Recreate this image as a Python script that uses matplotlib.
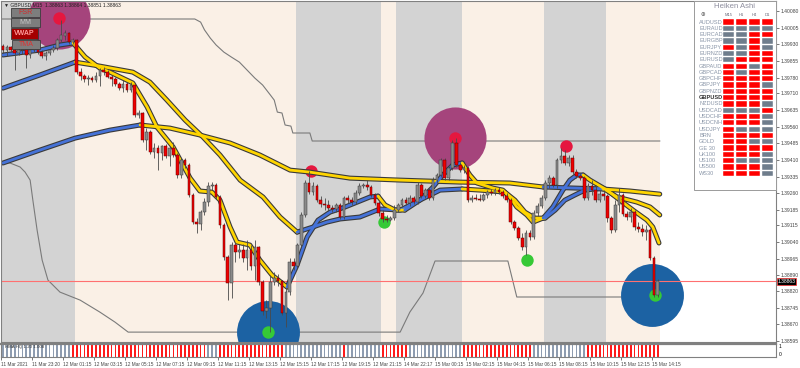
import numpy as np
import matplotlib.pyplot as plt
from matplotlib.patches import Rectangle

BASE = 1.38  # all price values below are points above 1.38000

# ---- GBPUSD M15 candles (points) ----
c_open = [1922, 1904, 1918, 1904, 1891, 1904, 1909, 1882, 1904, 1931, 1895, 1877, 1891, 1904, 1913, 1949, 1967, 1981, 1940, 1949,
          1805, 1787, 1774, 1778, 1769, 1787, 1814, 1805, 1783, 1774,
          1751, 1733, 1751, 1724, 1747, 1612, 1621, 1499, 1535, 1445,
          1463, 1441, 1472, 1427, 1463, 1432, 1342, 1409, 1387, 1252,
          1130, 1121, 1175, 1220, 1292, 1297, 1243, 1117, 973, 856,
          1027, 995, 1004, 968, 1004, 932, 1018, 860, 730, 743,
          860, 878, 865, 721, 815, 950, 932, 1027, 1162, 1306,
          1265, 1292, 1229, 1211, 1207, 1193, 1189, 1207, 1153, 1238,
          1229, 1220, 1261, 1292, 1297, 1288, 1252, 1216, 1171, 1144,
          1139, 1148, 1184, 1207, 1229, 1216, 1238, 1220, 1297, 1247,
          1274, 1238, 1319, 1342, 1409, 1328, 1373, 1486, 1387, 1364,
          1373, 1229, 1238, 1234, 1229, 1252, 1265, 1261, 1274, 1265,
          1247, 1229, 1130, 1103, 1058, 1018, 1081, 1063, 1171, 1202,
          1238, 1306, 1328, 1297, 1409, 1427, 1396, 1418, 1355, 1337,
          1328, 1238, 1292, 1274, 1229, 1256, 1247, 1148, 1094, 1207,
          1252, 1166, 1153, 1175, 1108, 1099, 1085, 1094, 968, 802]
c_high = [1931, 1927, 1922, 1913, 1913, 1922, 1918, 1909, 1940, 1940, 1904, 1900, 1909, 1927, 1958, 2040, 1995, 1985, 1958, 1954,
          1823, 1796, 1792, 1787, 1805, 1823, 1828, 1814, 1792, 1783,
          1760, 1769, 1760, 1760, 1751, 1634, 1625, 1553, 1544, 1486,
          1477, 1477, 1481, 1472, 1490, 1441, 1418, 1418, 1396, 1261,
          1148, 1184, 1238, 1310, 1310, 1306, 1252, 1126, 982, 1040,
          1036, 1031, 1031, 1049, 1027, 1049, 1022, 869, 779, 892,
          905, 896, 869, 833, 968, 968, 1036, 1175, 1319, 1360,
          1310, 1301, 1247, 1238, 1229, 1207, 1216, 1216, 1247, 1252,
          1243, 1274, 1306, 1306, 1319, 1297, 1261, 1225, 1184, 1162,
          1157, 1207, 1216, 1238, 1243, 1252, 1247, 1310, 1306, 1283,
          1283, 1333, 1351, 1418, 1418, 1382, 1499, 1508, 1400, 1387,
          1382, 1252, 1256, 1256, 1261, 1274, 1279, 1283, 1288, 1274,
          1261, 1238, 1139, 1112, 1081, 1094, 1094, 1184, 1216, 1252,
          1319, 1342, 1337, 1418, 1463, 1454, 1432, 1432, 1369, 1351,
          1337, 1306, 1319, 1297, 1274, 1274, 1256, 1157, 1229, 1283,
          1261, 1180, 1193, 1184, 1130, 1121, 1117, 1103, 977, 874]
c_low = [1891, 1877, 1895, 1814, 1882, 1886, 1823, 1868, 1895, 1886, 1868, 1859, 1882, 1895, 1904, 1940, 1949, 1931, 1931, 1796,
         1769, 1760, 1747, 1760, 1760, 1742, 1792, 1778, 1742, 1742,
         1724, 1715, 1715, 1715, 1603, 1598, 1490, 1454, 1436, 1418,
         1364, 1409, 1418, 1382, 1423, 1328, 1328, 1373, 1243, 1121,
         1081, 1094, 1162, 1202, 1274, 1234, 1103, 959, 779, 788,
         950, 968, 950, 914, 914, 869, 847, 712, 698, 635,
         847, 842, 712, 658, 802, 914, 923, 1018, 1153, 1256,
         1252, 1220, 1198, 1184, 1180, 1175, 1175, 1144, 1144, 1216,
         1207, 1211, 1252, 1283, 1274, 1243, 1207, 1157, 1130, 1130,
         1135, 1139, 1175, 1198, 1207, 1202, 1211, 1211, 1238, 1238,
         1229, 1229, 1306, 1333, 1319, 1319, 1364, 1378, 1355, 1351,
         1220, 1220, 1229, 1225, 1225, 1238, 1252, 1252, 1256, 1238,
         1220, 1121, 1094, 1049, 1004, 982, 1049, 1054, 1157, 1193,
         1229, 1283, 1288, 1283, 1396, 1387, 1382, 1346, 1328, 1319,
         1229, 1229, 1252, 1220, 1220, 1229, 1130, 1081, 1085, 1175,
         1157, 1139, 1130, 1094, 1085, 1067, 1049, 959, 793, 793]
c_close = [1904, 1918, 1904, 1891, 1904, 1909, 1882, 1904, 1931, 1895, 1877, 1891, 1904, 1913, 1949, 1972, 1981, 1940, 1949, 1805,
           1787, 1774, 1778, 1769, 1787, 1814, 1805, 1783, 1774, 1751,
           1733, 1751, 1724, 1747, 1612, 1621, 1499, 1535, 1445, 1463,
           1441, 1472, 1427, 1463, 1432, 1342, 1409, 1387, 1252, 1130,
           1121, 1175, 1220, 1292, 1297, 1243, 1117, 973, 856, 1027,
           995, 1004, 968, 1004, 932, 1018, 860, 730, 743, 860,
           878, 865, 721, 815, 950, 932, 1027, 1162, 1306, 1265,
           1292, 1229, 1211, 1207, 1193, 1189, 1207, 1153, 1238, 1229,
           1220, 1261, 1292, 1297, 1288, 1252, 1216, 1171, 1144, 1139,
           1148, 1184, 1207, 1229, 1216, 1238, 1220, 1297, 1247, 1274,
           1238, 1319, 1342, 1409, 1328, 1373, 1486, 1387, 1364, 1373,
           1229, 1238, 1234, 1229, 1252, 1265, 1261, 1274, 1265, 1247,
           1229, 1130, 1103, 1058, 1018, 1081, 1063, 1171, 1202, 1238,
           1306, 1328, 1297, 1409, 1427, 1396, 1418, 1355, 1337, 1328,
           1238, 1292, 1274, 1229, 1256, 1247, 1148, 1094, 1207, 1252,
           1166, 1153, 1175, 1108, 1099, 1085, 1094, 968, 802, 863]

# session shading (bar from, bar to, kind)
sessions = [(-0.6, 18.5, 'g'), (18.5, 75.5, 'p'), (75.5, 97.5, 'g'), (97.5, 101.5, 'p'),
            (101.5, 118.5, 'g'), (118.5, 139.5, 'p'), (139.5, 155.5, 'g'), (155.5, 169.5, 'p')]

# moving averages: (colour, bars, points)
slow_ma = [
    ('b', [0, 9.5, 18.6, 27.6, 35.4], [1396, 1454, 1508, 1544, 1567]),
    ('y', [35.4, 43.1, 50.8, 58.6, 66.3, 74.1, 79.2, 89.5, 102.5, 118, 130.8, 139.4],
     [1567, 1553, 1522, 1486, 1432, 1364, 1355, 1328, 1319, 1310, 1306, 1288]),
    ('b', [139.4, 154.8], [1288, 1279]),
    ('y', [154.8, 161.8, 169.5], [1279, 1270, 1256]),
]
mid_ma = [
    ('b', [0, 9.5, 18.6], [1733, 1792, 1850]),
    ('y', [18.6, 25, 33.5, 37.9, 42.3, 47, 51.6, 56, 61.2, 67.1, 71.5, 75.9],
     [1850, 1832, 1805, 1760, 1679, 1589, 1513, 1432, 1319, 1243, 1153, 1085]),
    ('b', [75.9, 80, 83.6, 87, 92.1, 97.3, 102.5, 107.6, 112.8, 118.5],
     [1085, 1108, 1130, 1144, 1153, 1189, 1184, 1229, 1274, 1279]),
    ('y', [118.5, 123.1, 129.5, 132.1, 134.7, 137.3, 139.9], [1279, 1274, 1265, 1229, 1175, 1148, 1148]),
    ('b', [139.9, 142.5, 145, 147.6, 150.2, 154.8], [1148, 1184, 1229, 1252, 1274, 1283]),
    ('y', [154.8, 158.5, 163.6, 167, 169.5], [1283, 1243, 1220, 1198, 1162]),
]
fast_ma = [
    ('b', [0, 9.5, 14.7, 18.1], [1882, 1904, 1927, 1936]),
    ('y', [18.1, 21.2, 25, 27.6, 33.5, 37.2, 39.7, 43.9, 48.3, 50.8, 53.9, 56, 58.6, 60.4, 63.7, 66.3, 69.4, 73.3],
     [1936, 1873, 1823, 1805, 1756, 1648, 1558, 1468, 1328, 1270, 1265, 1229, 1108, 1040, 1027, 959, 892, 838]),
    ('b', [73.3, 75.9, 78.5, 81.3, 84.4, 88.3, 94.7, 96.8], [838, 937, 1063, 1139, 1175, 1198, 1243, 1247]),
    ('y', [96.8, 98.6, 101.2, 103.7], [1247, 1207, 1184, 1184]),
    ('b', [103.7, 107.6, 111, 113.5, 116.1, 118.5], [1184, 1229, 1288, 1342, 1387, 1396]),
    ('y', [118.5, 120.5, 122.3, 126.5, 129, 130.8, 132.6, 135.2, 136.8, 139.4],
     [1396, 1342, 1306, 1283, 1274, 1243, 1198, 1162, 1130, 1148]),
    ('b', [139.4, 141.9, 144.5, 146.3, 148.1, 149.7], [1148, 1198, 1274, 1319, 1342, 1342]),
    ('y', [149.7, 151.5, 155.9, 159.2, 162.6, 166.2, 167.7, 169.3], [1342, 1319, 1274, 1229, 1184, 1139, 1108, 1036]),
]

# stepped support / resistance lines
res_x = [-0.6, 49.5, 51, 52, 53.5, 55, 57, 59, 61, 63, 65, 67, 69, 70, 70.8, 72, 72.8, 74.3, 74.8, 79.2, 79.8, 169.5]
res_y = [2044, 2044, 2030, 1995, 1958, 1927, 1895, 1872, 1850, 1814, 1778, 1747, 1702, 1679, 1625, 1621, 1567, 1562,
         1531, 1531, 1495, 1495]
sup_x = [-0.6, 1.8, 4.4, 5.7, 7, 7.7, 8.8, 10.1, 11.6, 14.7, 19.9, 25, 28.9, 32.3, 102.5, 105, 108.4, 111.5, 130.3,
         132.6, 169.5]
sup_y = [1400, 1396, 1378, 1355, 1319, 1229, 1094, 959, 869, 815, 779, 725, 680, 635, 635, 725, 811, 955, 955, 793, 793]

# signal markers
top_x = [14.5, 116.6]
top_y = [2048, 1508]
red_x = [14.5, 79.5, 116.6, 145.3]
red_y = [2048, 1360, 1508, 1472]
bot_x = [68.4, 167.5]
bot_y = [635, 802]
green_x = [68.4, 98.3, 135.2, 168.3]
green_y = [635, 1130, 959, 802]

bid = 863

price_ticks = [1.40080, 1.40005, 1.39930, 1.39855, 1.39780, 1.39710, 1.39635, 1.39560, 1.39485, 1.39410, 1.39335,
               1.39260, 1.39185, 1.39115, 1.39040, 1.38965, 1.38890, 1.38820, 1.38745, 1.38670, 1.38595]
time_labels = ['11 Mar 2021', '11 Mar 23:20', '12 Mar 01:15', '12 Mar 03:15', '12 Mar 05:15', '12 Mar 07:15',
               '12 Mar 09:15', '12 Mar 11:15', '12 Mar 13:15', '12 Mar 15:15', '12 Mar 17:15', '12 Mar 19:15',
               '12 Mar 21:15', '14 Mar 22:17', '15 Mar 00:15', '15 Mar 02:15', '15 Mar 04:15', '15 Mar 06:15',
               '15 Mar 08:15', '15 Mar 10:15', '15 Mar 12:15', '15 Mar 14:15']

# lower window colour runs
hist_runs = [('g', 18), ('r', 35), ('g', 3), ('r', 17), ('g', 15), ('r', 1), ('g', 9), ('r', 7),
             ('g', 14), ('r', 18), ('g', 14), ('r', 19)]

# Heiken Ashi dashboard
ha_symbols = ['AUDUSD', 'EURAUD', 'EURCAD', 'EURGBP', 'EURJPY', 'EURNZD', 'EURUSD', 'GBPAUD', 'GBPCAD', 'GBPCHF',
              'GBPJPY', 'GBPNZD', 'GBPUSD', 'NZDUSD', 'USDCAD', 'USDCHF', 'USDCNH', 'USDJPY', 'BRN', 'GOLD',
              'GE 30', 'UK100', 'US100', 'US500', 'WS30']
ha_frames = ['M15', 'H1', 'H4', 'D1']
ha_state = ['RRRR', 'GGGG', 'GGRR', 'GGRG', 'RGRG', 'GGRR', 'GRRR', 'RRGR', 'RGRR', 'RRRR',
            'RRRG', 'RRRR', 'RRRR', 'RRRG', 'GGGR', 'RRRG', 'RRRG', 'RGGG', 'RRRR', 'RRGG',
            'RRRR', 'RRRG', 'RGGG', 'RRRG', 'RRRG']

plt.rcParams['font.family'] = ['Liberation Sans', 'DejaVu Sans']


def to_price(v):
    return BASE + np.asarray(v, dtype=float) / 1e5


fig = plt.figure(figsize=(8, 3.68), dpi=100)
fig.patch.set_facecolor('white')

ax = fig.add_axes([1 / 800, 1 - 342 / 368, 775 / 800, 341 / 368])
sub = fig.add_axes([1 / 800, 1 - 357 / 368, 775 / 800, 13.5 / 368])

xmin, xmax = -0.52, 199.5
ax.set_xlim(xmin, xmax)
ax.set_ylim(1.385905, 1.40125)
sub.set_xlim(xmin, xmax)
sub.set_ylim(0, 1)

shade = {'g': '#d3d3d3', 'p': '#faf0e6'}
for a, b, k in sessions:
    ax.axvspan(a, b, color=shade[k], lw=0, zorder=0)

ax.plot(res_x, to_price(res_y), color='#7a7a7a', lw=0.8, zorder=1)
ax.plot(sup_x, to_price(sup_y), color='#7a7a7a', lw=0.8, zorder=1)

# circles
ax.scatter(top_x, to_price(top_y), s=2000, color='#a5447c', lw=0, zorder=1.5)
ax.scatter(bot_x, to_price(bot_y), s=2050, color='#1c62a3', lw=0, zorder=1.5)
ax.scatter(red_x, to_price(red_y), s=80, color='#e5173f', lw=0, zorder=1.6)
ax.scatter(green_x, to_price(green_y), s=80, color='#36c936', lw=0, zorder=1.6)

ax.axhline(to_price(bid), color='#ff7070', lw=0.8, zorder=1.7)

ma_col = {'y': '#ffd500', 'b': '#4572d8'}
for ma in (slow_ma, mid_ma, fast_ma):
    for col, xs, ys in ma:
        ax.plot(xs, to_price(ys), color='#3a3a3a', lw=3.6, solid_capstyle='round', zorder=2)
    for col, xs, ys in ma:
        ax.plot(xs, to_price(ys), color=ma_col[col], lw=2.0, solid_capstyle='round', zorder=2.1)

# candles
o = to_price(c_open)
h = to_price(c_high)
l = to_price(c_low)
c = to_price(c_close)
idx = np.arange(len(o))
down = c < o
ax.vlines(idx, l, h, color='#4a4a4a', lw=0.6, zorder=3)
body_lo = np.minimum(o, c)
body_h = np.maximum(np.abs(c - o), 0.000012)
ax.bar(idx[down], body_h[down], bottom=body_lo[down], width=0.7, color='#ee0000',
       edgecolor='#600000', lw=0.35, zorder=3.2)
ax.bar(idx[~down], body_h[~down], bottom=body_lo[~down], width=0.7, color='#8a8a8a',
       edgecolor='#3a3a3a', lw=0.35, zorder=3.2)

# price scale
ax.yaxis.tick_right()
ax.set_yticks(price_ticks)
ax.set_yticklabels(['%.5f' % p for p in price_ticks], fontsize=3.6, color='#222222')
ax.tick_params(axis='y', length=2, width=0.5, pad=1.0, colors='#444444')
ax.set_xticks([])
for sp in ax.spines.values():
    sp.set_color('#808080')
    sp.set_linewidth(0.8)

ax.text(1.002, to_price(bid), '1.38863', transform=ax.get_yaxis_transform(),
        fontsize=3.6, color='white', va='center', ha='left',
        bbox=dict(boxstyle='square,pad=0.2', fc='black', ec='#ff3030', lw=0.5), zorder=10)

# lower window
colors_hist = []
for k, n in hist_runs:
    colors_hist += ['#ff1a1a' if k == 'r' else '#8e9cb0'] * n
sub.bar(np.arange(len(colors_hist)), np.ones(len(colors_hist)), width=0.45, color=colors_hist, lw=0)
sub.set_yticks([])
tick_pos = [8 * k - 0.5 for k in range(len(time_labels))]
sub.set_xticks(tick_pos)
sub.set_xticklabels(time_labels, fontsize=3.4, ha='left', color='#222222')
sub.tick_params(axis='x', length=2, width=0.5, pad=1.5, colors='#444444')
for sp in sub.spines.values():
    sp.set_color('#808080')
    sp.set_linewidth(0.8)
sub.spines['top'].set_linewidth(1.6)
sub.text(1.004, 0.78, '1', transform=sub.transAxes, fontsize=3.5, va='center')
sub.text(1.004, 0.2, '0', transform=sub.transAxes, fontsize=3.5, va='center')
sub.text(0.005, 0.72, 'HMA HQ 1.20 1.008', transform=sub.transAxes, fontsize=3.2, color='#333333',
         va='center', zorder=5)

# overlay in pixel units for labels, buttons and dashboard
ov = fig.add_axes([0, 0, 1, 1])
ov.set_xlim(0, 800)
ov.set_ylim(368, 0)
ov.axis('off')
ov.patch.set_alpha(0)

ov.text(4, 4.5, '\u25bc GBPUSD,M15  1.38863 1.38864 1.38851 1.38863', fontsize=3.6, color='#222222', va='center')

buttons = [('FSR', 11, 8, 29, 9, '#7d7d7d', '#d42a2a'),
           ('MM', 11, 18, 29, 9, '#7d7d7d', '#c8c8c8'),
           ('VWAP', 11, 28, 27, 11, '#a50000', '#ff9a9a'),
           ('TMA', 12, 40, 28, 9, '#7d7d7d', '#e03030')]
for txt, bx, by, bw, bh, fc, tc in buttons:
    ov.add_patch(Rectangle((bx, by), bw, bh, fc=fc, ec='#3c3c3c', lw=0.6, zorder=5))
    ov.text(bx + bw / 2, by + bh / 2 + 0.3, txt, fontsize=5.0, color=tc, ha='center', va='center',
            fontweight='bold' if txt == 'VWAP' else 'normal', zorder=6)

ov.add_patch(Rectangle((694, 1), 82, 189, fc='white', ec='#9a9a9a', lw=0.7, zorder=5))
ov.text(735, 7, 'Heiken Ashi', fontsize=5.6, color='#8e8e9e', ha='center', va='center', zorder=6)
ov.text(703, 14, '\u2295', fontsize=4, color='#555555', ha='center', va='center', zorder=6)
col_x = [723, 736, 749, 762]
for j, fr in enumerate(ha_frames):
    ov.text(col_x[j] + 5.5, 15.5, fr, fontsize=3.0, color='#666677', ha='center', va='center', zorder=6)
for i, sym in enumerate(ha_symbols):
    yy = 22 + i * 6.3
    bold = sym == 'GBPUSD'
    ov.text(699, yy, sym, fontsize=4.1, color='#333333' if bold else '#8a96a8', ha='left', va='center',
            fontweight='bold' if bold else 'normal', zorder=6)
    for j, st in enumerate(ha_state[i]):
        ov.add_patch(Rectangle((col_x[j], yy - 2.6), 11, 5.2, fc='#ff0000' if st == 'R' else '#6f7d8c',
                               ec='white', lw=0.3, zorder=6))

fig.savefig('out.png', dpi=100)
